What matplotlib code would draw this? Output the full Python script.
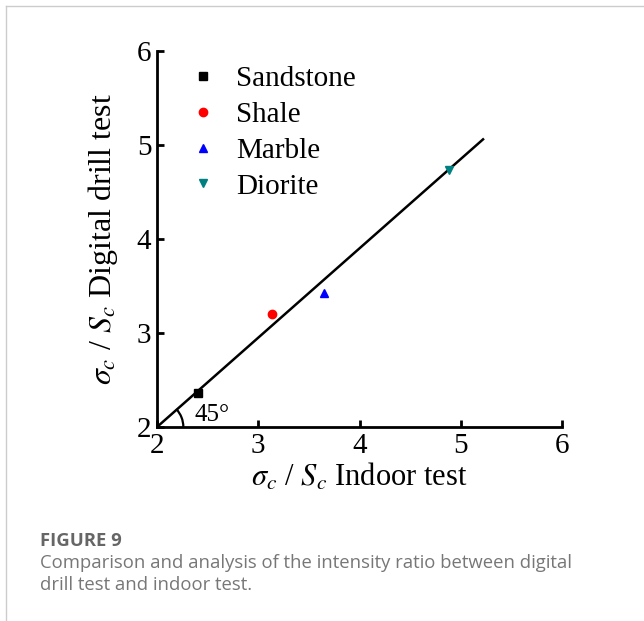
import matplotlib
matplotlib.use("Agg")
import matplotlib.pyplot as plt
from matplotlib.patches import Arc
from matplotlib.lines import Line2D

# Datos
rocks = ["Sandstone", "Shale", "Marble", "Diorite"]
indoor = [2.40, 3.14, 3.65, 4.88]
drill = [2.36, 3.20, 3.43, 4.73]
markers = ["s", "o", "^", "v"]
colors = ["black", "red", "blue", "#008080"]
fit_x = [2.0, 5.22]
fit_y = [2.0, 5.06]
ticks = [2, 3, 4, 5, 6]

plt.rcParams["font.family"] = ["Liberation Serif", "DejaVu Serif"]
plt.rcParams["mathtext.fontset"] = "stix"

fig = plt.figure(figsize=(6.44, 6.21), dpi=100)
ax = fig.add_axes([0.2438, 0.3124, 0.8727 - 0.2438, 0.9179 - 0.3124])

# Línea 1:1
ax.plot(fit_x, fit_y, color="black", lw=1.8, zorder=2)

for name, x, y, m, c in zip(rocks, indoor, drill, markers, colors):
    ax.plot(x, y, linestyle="none", marker=m, color=c, markersize=6,
            label=name, zorder=3)

# Arco de 45 grados
arc = Arc((2, 2), 0.52, 0.56, theta1=0, theta2=45, color="black", lw=1.6)
ax.add_patch(arc)
ax.text(2.37, 2.01, "45°", fontsize=18, ha="left", va="bottom")

ax.set_xlim(2, 6)
ax.set_ylim(2, 6)
ax.set_xticks(ticks)
ax.set_yticks(ticks)
ax.tick_params(direction="in", length=5, width=2, labelsize=21, pad=4)
for s in ["top", "right"]:
    ax.spines[s].set_visible(False)
for s in ["left", "bottom"]:
    ax.spines[s].set_linewidth(2)

ax.set_xlabel(r"$\sigma_c$ / $S_c$ Indoor test", fontsize=22, labelpad=2)
ax.set_ylabel(r"$\sigma_c$ / $S_c$ Digital drill test", fontsize=23, labelpad=12)

ax.legend(loc="upper left", bbox_to_anchor=(0.005, 1.03), frameon=False,
          fontsize=21, handletextpad=0.55, labelspacing=0.32, handlelength=1.2)

# Marco de la página y pie de figura
fig.add_artist(Line2D([6 / 644, 1], [1 - 6 / 621, 1 - 6 / 621], color="#cccccc", lw=1))
fig.add_artist(Line2D([6 / 644, 6 / 644], [0, 1 - 6 / 621], color="#cccccc", lw=1))

fig.text(40 / 644, 1 - 541 / 621, "FIGURE 9", fontsize=13.3, fontweight="bold",
         color="#666666", family="Open Sans", va="center")
fig.text(40 / 644, 1 - 563 / 621,
         "Comparison and analysis of the intensity ratio between digital",
         fontsize=13.3, color="#777777", family="Open Sans", va="center")
fig.text(40 / 644, 1 - 585 / 621, "drill test and indoor test.",
         fontsize=13.3, color="#777777", family="Open Sans", va="center")

fig.savefig("out.png", dpi=100)
